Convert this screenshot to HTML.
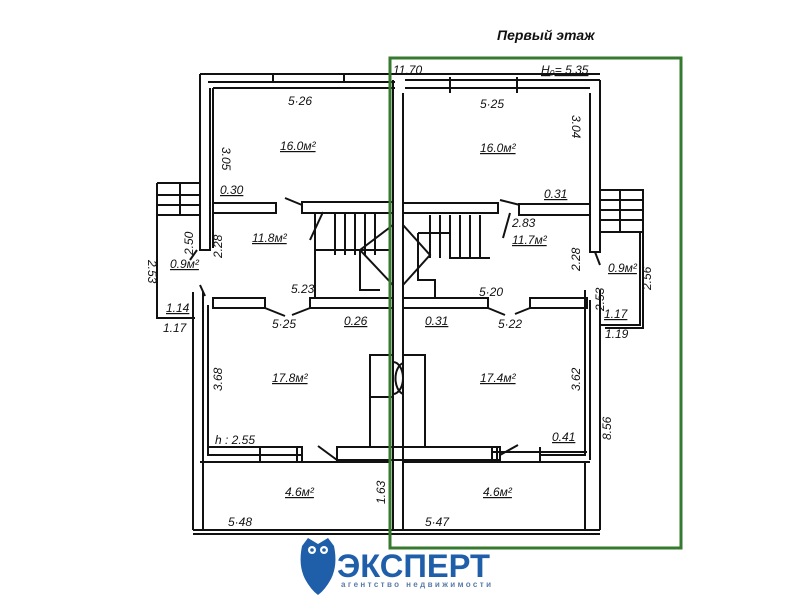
<!DOCTYPE html>
<html><head><meta charset="utf-8"><style>
body{margin:0;background:#fff;}
svg{display:block}
text{font-family:"Liberation Sans",sans-serif;font-style:italic;fill:#111;font-size:12px}
</style></head><body>
<svg width="800" height="600" viewBox="0 0 800 600" xmlns="http://www.w3.org/2000/svg">
<g stroke="#111" stroke-width="2" fill="none">
<path d="M200 74 H600 M208 82 H395 M213 88 H395 M405 88 H590 M405 80 H600"/>
<path d="M273 74 V82 M344 74 V82 M450 77 V93 M517 77 V93"/>
<path d="M200 74 V250 H210 V88 M213 88 V248"/>
<path d="M600 80 V252 H590 V93"/>
<path d="M393 80 V530 M403 93 V530"/>
<rect x="213" y="203" width="63" height="10"/>
<rect x="302" y="202" width="91" height="11"/>
<rect x="403" y="203" width="95" height="10"/>
<rect x="519" y="204" width="71" height="11"/>
<path d="M285 198 L302 205 M323 212 L310 240 M520 205 L500 200 M510 213 L503 238"/>
<path d="M315 213 V298 M315 250 H390 M335 213 V255 M345 213 V255 M355 213 V255 M365 213 V255 M375 213 V255 M360 250 L393 285 M360 250 L393 225 M360 250 V290 H380"/>
<path d="M403 225 L430 255 L403 285 M418 233 H450 V258 H490 M430 215 V258 M440 215 V258 M450 215 V258 M460 215 V258 M470 215 V258 M480 215 V258 M418 233 V280 H435 V298"/>
<rect x="213" y="298" width="52" height="10"/>
<rect x="310" y="298" width="83" height="10"/>
<rect x="403" y="298" width="85" height="10"/>
<rect x="530" y="298" width="57" height="10"/>
<path d="M265 308 L285 316 M310 308 L292 315 M488 308 L505 315 M530 308 L515 314"/>
<path d="M193 292 V530 M203 292 V530 M208 305 V447 H302 V462 M208 447 V455 H302 M260 447 V462 M297 447 V462"/>
<path d="M200 462 H390 V530"/>
<rect x="337" y="447" width="163" height="13"/>
<path d="M370 447 V355 H393 M425 447 V355 H403 M370 397 H393 M337 460 L318 446 M500 455 L518 445"/>
<path d="M393 362 A10 16 0 0 1 393 394 M403 363 A10 16 0 0 0 403 394"/>
<path d="M585 290 V455 H540 M600 290 V530 M590 300 V460 M492 447 V462 H590 M492 452 H587 M497 447 V462 M540 447 V462"/>
<path d="M403 462 H585 V530 M393 530 H600 M193 530 H393 M193 534 H600"/>
<path d="M157 183 H200 M157 183 V215 H200 M157 195 H200 M157 205 H200 M180 183 V215 M157 215 V318 H195"/>
<path d="M197 250 L190 260 M200 285 L205 296"/>
<path d="M600 190 H643 V232 H600 M600 200 H643 M600 210 H643 M600 220 H643 M620 190 V232 M640 232 V325 H600 M643 232 V328 H605"/>
<path d="M595 252 L600 265"/>
</g>
<text x="288" y="105">5·26</text>
<text x="280" y="150" style="text-decoration:underline">16.0м²</text>
<text x="220" y="194" style="text-decoration:underline">0.30</text>
<text x="222" y="147" transform="rotate(90 222 147)">3.05</text>
<text x="222" y="238" transform="rotate(-90 222 238)" dx="-20">2.28</text>
<text x="193" y="235" transform="rotate(-90 193 235)" dx="-20">2.50</text>
<text x="252" y="242" style="text-decoration:underline">11.8м²</text>
<text x="170" y="268" style="text-decoration:underline">0.9м²</text>
<text x="148" y="272" transform="rotate(90 148 272)" dx="-12">2.53</text>
<text x="166" y="312" style="text-decoration:underline">1.14</text>
<text x="163" y="332">1.17</text>
<text x="291" y="293">5.23</text>
<text x="272" y="328">5·25</text>
<text x="344" y="325" style="text-decoration:underline">0.26</text>
<text x="425" y="325" style="text-decoration:underline">0.31</text>
<text x="498" y="328">5·22</text>
<text x="479" y="296">5·20</text>
<text x="393" y="74">11.70</text>
<text x="541" y="74" style="text-decoration:underline">H₀= 5.35</text>
<text x="480" y="108">5·25</text>
<text x="480" y="152" style="text-decoration:underline">16.0м²</text>
<text x="572" y="125" transform="rotate(90 572 125)" dx="-10">3.04</text>
<text x="544" y="198" style="text-decoration:underline">0.31</text>
<text x="512" y="227">2.83</text>
<text x="512" y="244" style="text-decoration:underline">11.7м²</text>
<text x="580" y="253" transform="rotate(-90 580 253)" dx="-18">2.28</text>
<text x="608" y="272" style="text-decoration:underline">0.9м²</text>
<text x="604" y="297" transform="rotate(-90 604 297)" dx="-14">2.53</text>
<text x="651" y="276" transform="rotate(-90 651 276)" dx="-14">2.56</text>
<text x="604" y="318" style="text-decoration:underline">1.17</text>
<text x="605" y="338">1.19</text>
<text x="222" y="375" transform="rotate(-90 222 375)" dx="-16">3.68</text>
<text x="272" y="382" style="text-decoration:underline">17.8м²</text>
<text x="480" y="382" style="text-decoration:underline">17.4м²</text>
<text x="580" y="375" transform="rotate(-90 580 375)" dx="-16">3.62</text>
<text x="611" y="420" transform="rotate(-90 611 420)" dx="-20">8.56</text>
<text x="215" y="444">h : 2.55</text>
<text x="552" y="441" style="text-decoration:underline">0.41</text>
<text x="285" y="496" style="text-decoration:underline">4.6м²</text>
<text x="483" y="496" style="text-decoration:underline">4.6м²</text>
<text x="385" y="490" transform="rotate(-90 385 490)" dx="-14">1.63</text>
<text x="228" y="526">5·48</text>
<text x="425" y="526">5·47</text>
<text x="497" y="40" style="font-weight:bold;font-size:14px">Первый этаж</text>
<rect x="390" y="58" width="291" height="490" fill="none" stroke="#357a2e" stroke-width="3"/>
<path d="M302 546 L308 538 L318 544 L328 538 L334 546 Q338 565 331 579 Q325 590 318 595 Q311 590 305 579 Q298 565 302 546Z" fill="#1f5ea8"/>
<circle cx="312" cy="550" r="4" fill="#fff"/><circle cx="324" cy="550" r="4" fill="#fff"/>
<circle cx="312" cy="550" r="1.8" fill="#1f5ea8"/><circle cx="324" cy="550" r="1.8" fill="#1f5ea8"/>
<text x="337" y="577" style="font-style:normal;font-weight:bold;font-size:32px;fill:#1f5ea8" textLength="153" lengthAdjust="spacingAndGlyphs">ЭКСПЕРТ</text>
<text x="341" y="587" style="font-style:normal;font-weight:bold;font-size:8px;fill:#5a7ca8" textLength="150">агентство недвижимости</text>
</svg>
</body></html>
